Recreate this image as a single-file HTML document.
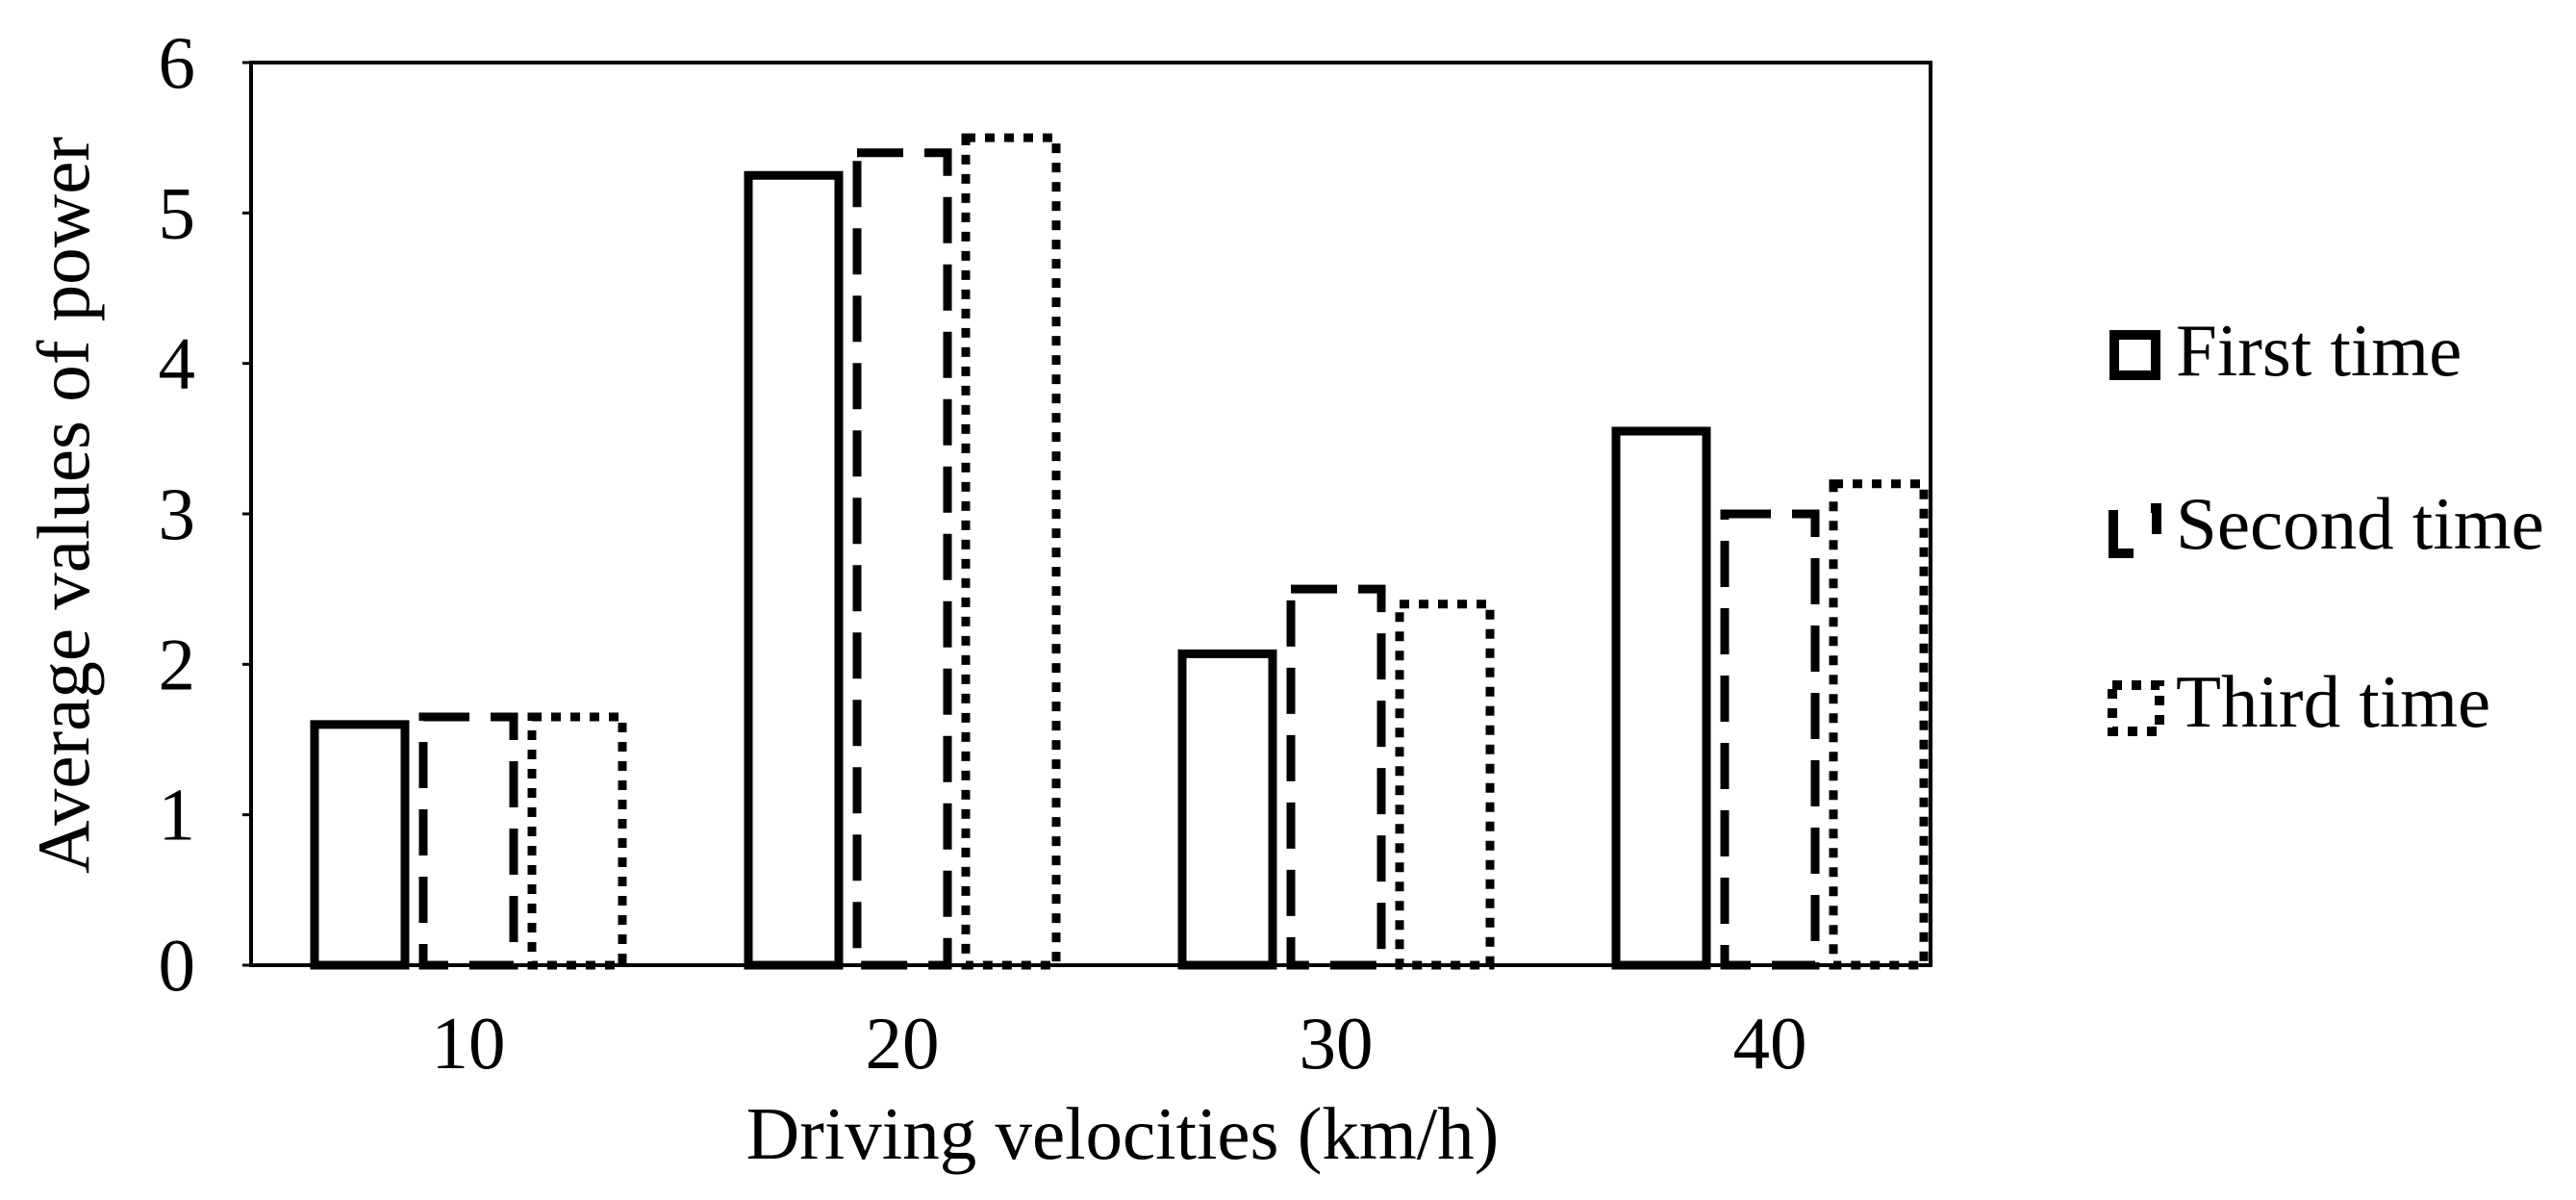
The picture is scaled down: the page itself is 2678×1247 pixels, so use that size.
<!DOCTYPE html>
<html><head><meta charset="utf-8"><style>
html,body{margin:0;padding:0;background:#fff;}
svg{display:block;font-family:"Liberation Serif",serif;}
</style></head><body>
<svg id="chart" width="2678" height="1247" viewBox="0 0 2678 1247" xmlns="http://www.w3.org/2000/svg">
<rect x="0" y="0" width="2678" height="1247" fill="#fff"/>
<g id="bars"></g>
<rect x="261" y="65" width="1746" height="938" fill="none" stroke="#000" stroke-width="4"/>
<g id="yticks"></g>
<g id="xticks"></g>
<text x="1167" y="1204" font-size="77" text-anchor="middle">Driving velocities (km/h)</text>
<text transform="translate(92,525) rotate(-90)" font-size="77" text-anchor="middle">Average values of power</text>
<g>
 <g>
  <rect x="2198" y="348" width="43" height="42" fill="none" stroke="#000" stroke-width="10"/>
  <text x="2262" y="390" font-size="77">First time</text>
 </g>
 <g>
  <path d="M2197,530 L2197,575 L2218,575" fill="none" stroke="#000" stroke-width="10"/>
  <path d="M2236,528 L2242,528 L2242,555" fill="none" stroke="#000" stroke-width="10"/>
  <text x="2262" y="570" font-size="77">Second time</text>
 </g>
 <g>
  <rect x="2196" y="712" width="49" height="48" fill="none" stroke="#000" stroke-width="10" stroke-dasharray="10 10"/>
  <text x="2262" y="755" font-size="77">Third time</text>
 </g>
</g>
</svg>
<script>
const categories = ["10","20","30","40"];
const firstTime  = [1.6, 5.25, 2.07, 3.55];
const secondTime = [1.65, 5.4, 2.5, 3.0];
const thirdTime  = [1.65, 5.5, 2.4, 3.2];
const yTicks = [0,1,2,3,4,5,6];

const NS = "http://www.w3.org/2000/svg";
const plotBottom = 1003, plotTop = 65;
const yMin = 0, yMax = 6;
function yScale(v){ return plotBottom - (v - yMin) / (yMax - yMin) * (plotBottom - plotTop); }
const firstCenter = 487, groupStep = 451;
function xScale(i){ return firstCenter + i * groupStep; }
const barWidth = 94, barPitch = 113;
const series = [
  {name:"first", vals:firstTime, dash:null},
  {name:"second", vals:secondTime, dash:"48 22"},
  {name:"third", vals:thirdTime, dash:"10 10"}
];
const barsG = document.getElementById("bars");
series.forEach((s, si) => {
  s.vals.forEach((v, i) => {
    const cx = xScale(i) + (si - 1) * barPitch;
    const r = document.createElementNS(NS, "rect");
    r.setAttribute("x", cx - barWidth/2);
    r.setAttribute("y", yScale(v));
    r.setAttribute("width", barWidth);
    r.setAttribute("height", yScale(0) - yScale(v));
    r.setAttribute("fill", "#fff");
    r.setAttribute("stroke", "#000");
    r.setAttribute("stroke-width", "9");
    if (s.dash) r.setAttribute("stroke-dasharray", s.dash);
    
    
    barsG.appendChild(r);
  });
});
const yG = document.getElementById("yticks");
yTicks.forEach(t => {
  const tx = document.createElementNS(NS, "text");
  tx.setAttribute("x", 203);
  tx.setAttribute("y", yScale(t) + 26);
  tx.setAttribute("font-size", "77");
  tx.setAttribute("text-anchor", "end");
  tx.textContent = t;
  
  
  yG.appendChild(tx);
  const ln = document.createElementNS(NS, "line");
  ln.setAttribute("x1", 252); ln.setAttribute("x2", 261);
  ln.setAttribute("y1", yScale(t)); ln.setAttribute("y2", yScale(t));
  ln.setAttribute("stroke", "#000"); ln.setAttribute("stroke-width", "3");
  
  
  yG.appendChild(ln);
});
const xG = document.getElementById("xticks");
categories.forEach((c, i) => {
  const tx = document.createElementNS(NS, "text");
  tx.setAttribute("x", xScale(i));
  tx.setAttribute("y", 1110);
  tx.setAttribute("font-size", "77");
  tx.setAttribute("text-anchor", "middle");
  tx.textContent = c;
  
  
  xG.appendChild(tx);
});
</script>
</body></html>
